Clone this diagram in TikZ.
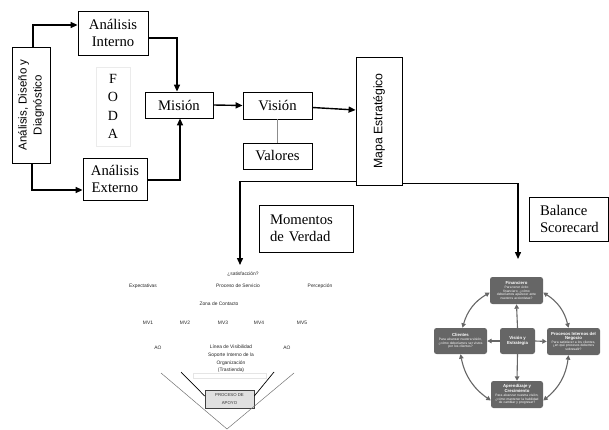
\documentclass[tikz,border=0pt]{standalone}
\usepackage{fontspec}
\setmainfont{Liberation Serif}
\setsansfont{Liberation Sans}
\usetikzlibrary{arrows.meta}

\begin{document}
\begin{tikzpicture}[x=1pt,y=-1pt,
  box/.style={draw, line width=0.8pt, inner sep=0pt, align=center,
    font=\fontsize{14.7}{17.5}\selectfont},
  leftbox/.style={box, align=left, inner xsep=11pt},
  arr/.style={line width=1.4pt, -{Triangle[length=7pt,width=6pt]}},
  tiny/.style={font=\sffamily\fontsize{4.9}{7.6}\selectfont, inner sep=0pt, text=black!85},
  bsc/.style={fill=black!60, rounded corners=2.5pt, inner sep=1pt, align=center,
    text=white, font=\sffamily\fontsize{3.3}{3.8}\selectfont},
  bscarr/.style={draw=black!60, line width=1.1pt, -{Triangle[length=4.5pt,width=4.5pt]}},
  bscdbl/.style={draw=black!60, line width=1.1pt,
    {Triangle[length=4.5pt,width=4.5pt]}-{Triangle[length=4.5pt,width=4.5pt]}}
]
\useasboundingbox (0,0) rectangle (609,430);

% --- strategic chain ---
\node[box, rotate=90, minimum width=116pt, minimum height=38pt,
  font=\sffamily\fontsize{11.5}{15}\selectfont] (add) at (31,105)
  {Análisis, Diseño y\\Diagnóstico};
\node[box, minimum width=70pt, minimum height=44pt] (ai) at (113,33) {Análisis\\Interno};
\node[draw=black!8, line width=0.6pt, minimum width=34pt, minimum height=79pt,
  inner sep=0pt, align=center, font=\fontsize{14}{18.5}\selectfont] (foda) at (113,106.5)
  {F\\O\\D\\A};
\node[box, minimum width=68pt, minimum height=26pt] (mis) at (179,105) {Misión};
\node[box, minimum width=64pt, minimum height=42pt] (ae) at (115,179) {Análisis\\Externo};
\node[box, minimum width=69pt, minimum height=27pt] (vis) at (277.5,105.5) {Visión};
\node[box, minimum width=69pt, minimum height=26pt] (val) at (277.5,156) {Valores};
\node[box, rotate=90, minimum width=128pt, minimum height=46pt,
  font=\sffamily\fontsize{12.3}{15}\selectfont] (mapa) at (379,121) {Mapa Estratégico};
\node[leftbox, minimum width=94pt, minimum height=47pt, text width=72pt] (mdv) at (306,228.5)
  {Momentos\\de Verdad};
\node[leftbox, minimum width=79pt, minimum height=44pt, text width=57pt] (bs) at (568.5,219)
  {Balance\\Scorecard};

\coordinate (mdvtip) at (240,265);
\coordinate (bsctip) at (518,259);

\draw[arr] ([xshift=2pt]add.east) |- ([yshift=8pt]ai.west);
\draw[arr] ([xshift=1pt]add.west) |- ([yshift=-11pt]ae.west);
\draw[arr] ([yshift=-5pt]ai.east) -| ([xshift=-2pt]mis.north);
\draw[arr] ([yshift=-1pt]ae.east) -| ([xshift=1pt]mis.south);
\draw[arr] (mis.east) -- (vis.west);
\draw[black!45, line width=0.6pt] (vis.south) -- (val.north);
\draw[arr] ([yshift=-2pt]vis.east) -- ([yshift=11pt]mapa.north);
\draw[arr] ([yshift=4pt]mapa.north west) -| (mdvtip);
\draw[arr] ([yshift=2pt]mapa.south west) -| (bsctip);

% --- moments of truth ---
\node[tiny] (sat) at (243,274) {¿satisfacción?};
\node[tiny] (exp) at (143,286) {Expectativas};
\node[tiny] (ps) at (238,286) {Proceso de Servicio};
\node[tiny] (per) at (320,286) {Percepción};
\node[tiny] (zc) at (219,304) {Zona de Contacto};
\node[tiny] (mv1) at (148,323) {MV1};
\node[tiny] (mv2) at (185,323) {MV2};
\node[tiny] (mv3) at (223,323) {MV3};
\node[tiny] (mv4) at (259,323) {MV4};
\node[tiny] (mv5) at (302,323) {MV5};
\node[tiny] (ao1) at (158,348) {AO};
\node[tiny] (ao2) at (287,348) {AO};
\node[draw=black!10, line width=0.5pt, minimum width=73pt, minimum height=5pt, inner sep=0pt]
  (tras) at (229.5,375.5) {};
\node[tiny, align=center, anchor=north] (lv) at (231,345)
  {Línea de Visibilidad\\Soporte Interno de la\\Organización\\(Trastienda)};
\node[draw=black!75, fill=black!12, line width=0.6pt, minimum width=49pt, minimum height=18pt,
  inner sep=0pt, align=center, font=\sffamily\fontsize{4.3}{7.5}\selectfont, text=black!80]
  (apoyo) at (229.5,399) {PROCESO DE\\APOYO};
\coordinate (vl) at (161,373);
\coordinate (vr) at (294,373);
\coordinate (vapex) at (227,429);
\coordinate (il) at (181,372);
\coordinate (ir) at (274,372);
\draw[black!55, line width=0.5pt] (vl) -- (vapex) -- (vr);
\draw[line width=0.7pt] (il) -- ([yshift=3pt]apoyo.west);
\draw[line width=0.7pt] (ir) -- ([yshift=3pt]apoyo.east);

% --- balanced scorecard ---
\node[bsc, minimum width=53pt, minimum height=27pt, text width=51pt] (fin) at (516.5,290.5)
  {{\fontsize{4.3}{5}\selectfont\bfseries Financiero}\\Para tener éxito\\financiero, ¿cómo\\deberíamos aparecer ante\\nuestros accionistas?};
\node[bsc, minimum width=53pt, minimum height=26pt, text width=51pt] (cli) at (460.5,341)
  {{\fontsize{4.3}{5}\selectfont\bfseries Clientes}\\Para alcanzar nuestra visión,\\¿cómo deberíamos ser vistos\\por los clientes?};
\node[bsc, minimum width=35pt, minimum height=26pt, text width=33pt] (ve) at (517.5,341)
  {\fontsize{4.3}{5.5}\selectfont\bfseries Visión y\\Estrategia};
\node[bsc, minimum width=53pt, minimum height=27pt, text width=51pt] (pro) at (573.5,341.5)
  {{\fontsize{4.3}{5}\selectfont\bfseries Procesos Internos del\\Negocio}\\Para satisfacer a los clientes,\\¿en qué procesos debemos\\sobresalir?};
\node[bsc, minimum width=52pt, minimum height=27pt, text width=50pt] (apr) at (517,394.5)
  {{\fontsize{4.3}{5}\selectfont\bfseries Aprendizaje y\\Crecimiento}\\Para alcanzar nuestra visión,\\¿cómo mantener la habilidad\\de cambiar y progresar?};

\draw[bscarr] (ve.north) -- (fin.south);
\draw[bscarr] (ve.west) -- (cli.east);
\draw[bscarr] (ve.east) -- (pro.west);
\draw[bscarr] (ve.south) -- (apr.north);
\draw[bscdbl] ([yshift=-2pt]fin.west) to[bend right=22] ([xshift=2pt]cli.north);
\draw[bscdbl] (cli.south) to[bend right=22] ([yshift=-6pt]apr.west);
\draw[bscdbl] ([yshift=-6pt]apr.east) to[bend right=22] ([xshift=-5pt]pro.south);
\draw[bscdbl] ([xshift=-5pt]pro.north) to[bend right=22] ([yshift=-2pt]fin.east);
\end{tikzpicture}
\end{document}
